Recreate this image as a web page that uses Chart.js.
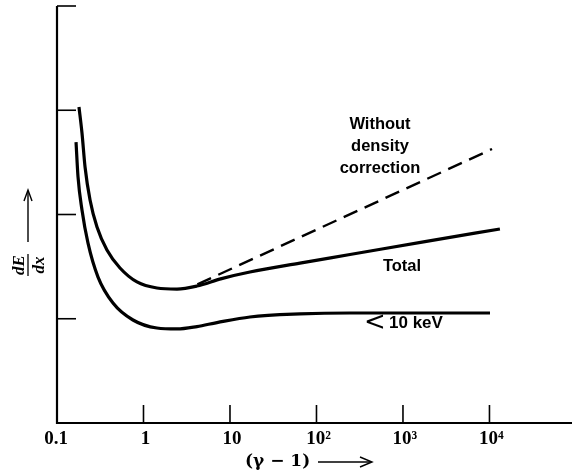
<!DOCTYPE html>
<html><head><meta charset="utf-8">
<script src="https://cdn.jsdelivr.net/npm/chart.js@4/dist/chart.umd.min.js"></script>
<style>html,body{margin:0;padding:0;background:#fff}#wrap{width:572px;height:473px}</style>
</head><body><div id="wrap"><canvas id="c" width="572" height="473"></canvas></div>
<script>
// Data: x = (gamma - 1), y = dE/dx (arbitrary units)
const totalX = [0.1795, 0.1945, 0.211, 0.241, 0.290, 0.378, 0.535, 0.841, 1.43, 2.44, 4.15, 8.0, 17.0, 64.4, 244, 1795, 13200];
const totalY = [3.031, 2.782, 2.456, 2.139, 1.880, 1.659, 1.487, 1.353, 1.295, 1.285, 1.314, 1.385, 1.448, 1.534, 1.616, 1.740, 1.861];
const noDensX = [4.2, 10700];
const noDensY = [1.33, 2.628];
const softX = [0.166, 0.175, 0.1945, 0.228, 0.298, 0.444, 0.756, 1.43, 2.44, 4.15, 7.08, 17.0, 64.4, 244, 10140];
const softY = [2.695, 2.360, 2.043, 1.727, 1.400, 1.151, 0.988, 0.911, 0.902, 0.925, 0.963, 1.017, 1.046, 1.055, 1.055];
const xTickValues = [0.1, 1, 10, 100, 1000, 10000];
const xTickLabels = ['0.1', '1', '10', '10²', '10³', '10⁴'];
const yTickValues = [1, 2, 3, 4];

const pts = (xs, ys) => xs.map((x, i) => ({x, y: ys[i]}));

const axesPlugin = {
  id: 'axesDraw',
  afterDraw(chart) {
    const ctx = chart.ctx, xs = chart.scales.x, ys = chart.scales.y, a = chart.chartArea;
    ctx.save();
    ctx.strokeStyle = '#000'; ctx.fillStyle = '#000';
    ctx.lineWidth = 2.2;
    ctx.beginPath();
    ctx.moveTo(a.left, a.top); ctx.lineTo(a.left, a.bottom); ctx.lineTo(a.right, a.bottom);
    ctx.stroke();
    ctx.lineWidth = 1.6;
    yTickValues.forEach(v => {
      const py = ys.getPixelForValue(v);
      ctx.beginPath(); ctx.moveTo(a.left, py); ctx.lineTo(a.left + 19, py); ctx.stroke();
    });
    ctx.font = 'bold 19px "Liberation Serif", "DejaVu Serif", serif';
    ctx.textAlign = 'center'; ctx.textBaseline = 'middle';
    xTickValues.forEach((v, i) => {
      const px = xs.getPixelForValue(v);
      if (i > 0) { ctx.beginPath(); ctx.moveTo(px, a.bottom); ctx.lineTo(px, a.bottom - 18); ctx.stroke(); }
      ctx.fillText(xTickLabels[i], px + (i === 0 ? -1 : 2), 439);
    });
    // x title
    ctx.font = 'bold 17px "DejaVu Serif", "Liberation Serif", serif';
    ctx.textAlign = 'left';
    ctx.fillText('(γ − 1)', 245, 462);
    ctx.lineWidth = 1.4;
    ctx.beginPath(); ctx.moveTo(318, 462); ctx.lineTo(371, 462); ctx.stroke();
    ctx.beginPath(); ctx.moveTo(360, 457); ctx.lineTo(372, 462); ctx.lineTo(360, 467); ctx.stroke();
    // y title: dE/dx rotated with arrow
    ctx.save();
    ctx.translate(28, 265);
    ctx.rotate(-Math.PI / 2);
    ctx.font = 'italic bold 17px "Liberation Serif", "DejaVu Serif", serif';
    ctx.textAlign = 'center'; ctx.textBaseline = 'alphabetic';
    ctx.fillText('dE', 0, -4);
    ctx.textBaseline = 'top';
    ctx.fillText('dx', 0, 3);
    ctx.lineWidth = 1.3;
    ctx.beginPath(); ctx.moveTo(-11, 0); ctx.lineTo(11, 0); ctx.stroke();
    ctx.restore();
    ctx.lineWidth = 1.4;
    ctx.beginPath(); ctx.moveTo(28, 242); ctx.lineTo(28, 191); ctx.stroke();
    ctx.beginPath(); ctx.moveTo(24, 201); ctx.lineTo(28, 190); ctx.lineTo(32, 201); ctx.stroke();
    // curve annotations
    ctx.font = 'bold 16.5px "Liberation Sans", Arial, sans-serif';
    ctx.textAlign = 'center'; ctx.textBaseline = 'middle';
    ctx.fillText('Without', 380, 124);
    ctx.fillText('density', 380, 146);
    ctx.fillText('correction', 380, 168);
    ctx.fillText('Total', 402, 266);
    ctx.textAlign = 'left';
    ctx.font = '26px "DejaVu Sans", sans-serif';
    ctx.fillText('<', 364, 323);
    ctx.font = 'bold 17px "Liberation Sans", Arial, sans-serif';
    ctx.fillText('10 keV', 389, 323);
    ctx.restore();
  }
};

new Chart(document.getElementById('c'), {
  type: 'scatter',
  data: {
    datasets: [
      { label: 'Total', data: pts(totalX, totalY), showLine: true, borderColor: '#000', borderWidth: 3.2,
        pointRadius: 0, cubicInterpolationMode: 'monotone', fill: false },
      { label: 'Without density correction', data: pts(noDensX, noDensY), showLine: true, borderColor: '#000',
        borderWidth: 2.4, borderDash: [15, 8], pointRadius: 0, fill: false },
      { label: '< 10 keV', data: pts(softX, softY), showLine: true, borderColor: '#000', borderWidth: 3.2,
        pointRadius: 0, cubicInterpolationMode: 'monotone', fill: false }
    ]
  },
  options: {
    responsive: false, animation: false, devicePixelRatio: 1,
    layout: { padding: { left: 57, top: 6, right: 0, bottom: 50 } },
    plugins: { legend: { display: false }, tooltip: { enabled: false } },
    scales: {
      x: { type: 'logarithmic', min: 0.1, max: 90000, display: false },
      y: { type: 'linear', min: 0, max: 4, display: false }
    }
  },
  plugins: [axesPlugin]
});
</script>
</body></html>
